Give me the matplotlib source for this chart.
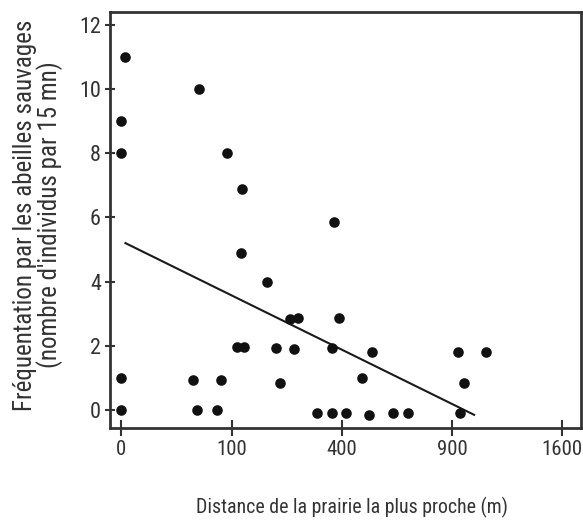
import matplotlib.pyplot as plt
import numpy as np

# données
distance = [0.1, 0, 0, 0, 0,
            49, 42, 47, 75, 81, 91, 120, 118, 110, 124,
            175, 196, 207, 234, 257, 246, 314, 364, 366, 373,
            388, 414, 475, 505, 515, 608, 677, 931, 941, 966, 1092]
frequentation = [11, 9, 8, 1, 0,
                 10, 0.95, 0, 0, 0.95, 8, 6.9, 4.9, 1.95, 1.95,
                 4, 1.92, 0.85, 2.83, 2.88, 1.9, -0.1, -0.1, 1.92, 5.86,
                 2.87, -0.1, 1.0, -0.15, 1.8, -0.1, -0.1, 1.8, -0.1, 0.85, 1.82]

# droite de régression (extrémités)
fit_x = [0.13, 1024]
fit_y = [5.2, -0.15]

xticks = [0, 100, 400, 900, 1600]
yticks = [0, 2, 4, 6, 8, 10, 12]

plt.rcParams['font.family'] = ['Roboto Condensed', 'Open Sans Condensed', 'DejaVu Sans']
plt.rcParams['font.stretch'] = 'condensed'

def fwd(x):
    x = np.asarray(x, dtype=float)
    return np.sign(x) * np.sqrt(np.abs(x))

def inv(x):
    x = np.asarray(x, dtype=float)
    return np.sign(x) * x ** 2

fig = plt.figure(figsize=(5.83, 5.22), dpi=100)
ax = fig.add_axes([0.1887, 0.1801, 0.9966 - 0.1887, 0.977 - 0.1801])

ax.set_xscale('function', functions=(fwd, inv))
ax.scatter(distance, frequentation, s=58, color='#111111', zorder=3, linewidths=0)
ax.plot(fit_x, fit_y, color='#1a1a1a', lw=1.5, zorder=2)

ax.set_xlim(-1.08, 1739)
ax.set_ylim(-0.56, 12.4)
ax.set_xticks(xticks)
ax.set_xticklabels([str(t) for t in xticks])
ax.set_yticks(yticks)
ax.set_yticklabels([str(t) for t in yticks])

for sp in ax.spines.values():
    sp.set_linewidth(2)
    sp.set_color('#333333')

ax.tick_params(axis='x', direction='inout', length=11, width=1.5, colors='#333333',
               labelsize=15, pad=3)
ax.tick_params(axis='y', direction='inout', length=7, width=1.5, colors='#333333',
               labelsize=16, pad=3)

ax.set_xlabel('Distance de la prairie la plus proche (m)', fontsize=14.3,
              color='#333333')
ax.xaxis.set_label_coords(0.514, -0.165)
ax.set_ylabel('Fréquentation par les abeilles sauvages\n(nombre d\'individus par 15 mn)',
              fontsize=18, color='#333333', linespacing=0.95)
ax.yaxis.set_label_coords(-0.100, 0.512)

fig.savefig('out.png', dpi=100)
